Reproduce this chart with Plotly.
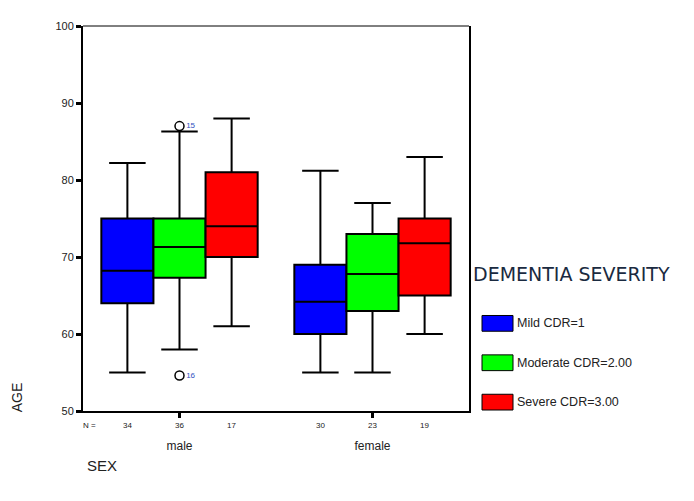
import plotly.graph_objects as go

# ---- data ----
sexes = ["male", "female"]
severity = ["Mild CDR=1", "Moderate CDR=2.00", "Severe CDR=3.00"]
colors = ["#0000ff", "#00ff00", "#ff0000"]

q1 = {"Mild CDR=1": [64, 60], "Moderate CDR=2.00": [67.3, 63], "Severe CDR=3.00": [70, 65]}
med = {"Mild CDR=1": [68.2, 64.2], "Moderate CDR=2.00": [71.3, 67.8], "Severe CDR=3.00": [74, 71.8]}
q3 = {"Mild CDR=1": [75, 69], "Moderate CDR=2.00": [75, 73], "Severe CDR=3.00": [81, 75]}
lo = {"Mild CDR=1": [55, 55], "Moderate CDR=2.00": [58, 55], "Severe CDR=3.00": [61, 60]}
hi = {"Mild CDR=1": [82.2, 81.2], "Moderate CDR=2.00": [86.3, 77], "Severe CDR=3.00": [88, 83]}
n_counts = {"Mild CDR=1": ["34", "30"], "Moderate CDR=2.00": ["36", "23"], "Severe CDR=3.00": ["17", "19"]}

out_x = ["male", "male"]
out_y = [87.0, 54.6]
out_lbl = ["15", "16"]

# ---- layout geometry (pixels, page coords; page body has 8px margin) ----
OFF = 8
W, H = 694, 501
L, R, T, B = 83 - OFF, 469 - OFF, 20 - OFF, 411 - OFF
def px(x):
    return (x - OFF - L) / (R - L)
def py(y):
    return (B - (y - OFF)) / (B - T)

boxgap = 0.19
bw = (1 - boxgap) / len(severity)

fig = go.Figure()
for s, c in zip(severity, colors):
    fig.add_trace(go.Box(
        x=sexes, q1=q1[s], median=med[s], q3=q3[s],
        lowerfence=lo[s], upperfence=hi[s],
        name=s, fillcolor=c, line=dict(color="black", width=2),
        whiskerwidth=0.7, showlegend=False, boxpoints=False,
    ))

fig.add_trace(go.Scatter(
    x=out_x, y=out_y, mode="markers+text", text=out_lbl,
    textposition="middle right",
    textfont=dict(size=8, color="#3050c0", family="Liberation Sans, Arial"),
    marker=dict(symbol="circle-open", size=9, color="black", line=dict(width=1.5)),
    showlegend=False, cliponaxis=False,
))

ann = []
ann.append(dict(x=px(89), y=0, xref="paper", yref="paper", text="N =", showarrow=False,
                xanchor="center", yanchor="top", yshift=-8, font=dict(size=8, color="#222")))
for j, s in enumerate(severity):
    for i, sx in enumerate(sexes):
        ann.append(dict(x=i + (j - 1) * bw, y=0, xref="x", yref="paper", text=n_counts[s][i],
                        showarrow=False, xanchor="center", yanchor="top", yshift=-8,
                        font=dict(size=8, color="#222")))
ann.append(dict(x=px(17), y=py(397), xref="paper", yref="paper", text="AGE", textangle=-90,
                showarrow=False, xanchor="center", yanchor="middle",
                font=dict(size=14, color="#222")))
ann.append(dict(x=px(102), y=py(466), xref="paper", yref="paper", text="SEX",
                showarrow=False, xanchor="center", yanchor="middle",
                font=dict(size=15, color="#222")))
ann.append(dict(x=px(471), y=py(272), xref="paper", yref="paper", text="DEMENTIA SEVERITY",
                showarrow=False, xanchor="left", yanchor="middle",
                font=dict(size=19, color="#1a2a40", family="DejaVu Sans, Verdana, sans-serif")))
shapes = []
leg_y = [322, 362, 402]
for s, c, yy in zip(severity, colors, leg_y):
    shapes.append(dict(type="rect", xref="paper", yref="paper",
                       x0=px(482), x1=px(513), y0=py(yy + 8), y1=py(yy - 8),
                       fillcolor=c, line=dict(color="black", width=1)))
    ann.append(dict(x=px(515), y=py(yy), xref="paper", yref="paper", text=s,
                    showarrow=False, xanchor="left", yanchor="middle",
                    font=dict(size=12.5, color="#222")))
shapes.append(dict(type="line", xref="paper", yref="paper", x0=0, x1=1, y0=1, y1=1,
                   line=dict(color="black", width=1)))

fig.update_layout(
    width=W, height=H,
    margin=dict(l=L, r=W - R, t=T, b=H - B),
    paper_bgcolor="white", plot_bgcolor="white",
    boxmode="group", boxgap=boxgap, boxgroupgap=0,
    font=dict(family="Liberation Sans, Arial, sans-serif", color="#222"),
    annotations=ann, shapes=shapes,
    xaxis=dict(type="category", range=[-0.5, 1.5], showgrid=False, zeroline=False,
               showline=True, linecolor="black", linewidth=2, mirror=False,
               ticks="outside", ticklen=5, tickwidth=3, tickcolor="black",
               tickfont=dict(size=12, color="#222"), ticklabelstandoff=18),
    yaxis=dict(range=[50, 100], dtick=10, showgrid=False, zeroline=False,
               showline=True, linecolor="black", linewidth=2, mirror=True,
               ticks="outside", ticklen=5, tickwidth=3, tickcolor="black",
               tickfont=dict(size=11, color="#222")),
)

fig.write_html("out.html")
